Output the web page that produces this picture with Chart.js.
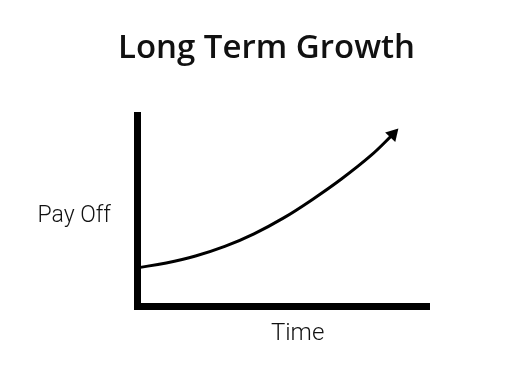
<!DOCTYPE html>
<html>
<head>
<meta charset="utf-8">
<script src="https://cdn.jsdelivr.net/npm/chart.js@4/dist/chart.umd.min.js"></script>
<style>
  body { margin: 0; background: #fff; }
  canvas { display: block; }
</style>
</head>
<body>
<canvas id="myChart" width="517" height="382"></canvas>
<script>
// curve (x = time, y = pay off, both 0..100)
var timeValues = [0, 10, 20, 30, 40, 50, 60, 70, 80, 87.5];
var payOffValues = [20.2, 22.8, 26.4, 31.4, 38.0, 46.2, 56.0, 66.8, 79.0, 90.0];
var chartTitle = 'Long Term Growth';
var xLabel = 'Time';
var yLabel = 'Pay Off';

var points = [];
for (var i = 0; i < timeValues.length; i++) {
    points.push({ x: timeValues[i], y: payOffValues[i] });
}

// axis labels: "Pay Off" sits flat on the left, so draw both by hand
var axisLabels = {
    id: 'axisLabels',
    afterDraw: function (chart) {
        var ctx = chart.ctx;
        var area = chart.chartArea;
        ctx.save();
        ctx.fillStyle = '#111';
        ctx.font = '300 23px Roboto';
        ctx.textBaseline = 'middle';
        ctx.textAlign = 'right';
        ctx.fillText(yLabel, area.left - 26, area.top + (area.bottom - area.top) * 0.52 + 1.5);
        ctx.textAlign = 'center';
        ctx.font = '300 24px Roboto';
        ctx.fillText(xLabel, area.left + (area.right - area.left) * 0.549, area.bottom + 27.5);
        ctx.restore();
    }
};

var last = points.length - 1;
var ctx = document.getElementById('myChart').getContext('2d');
var myChart = new Chart(ctx, {
    type: 'line',
    data: {
        datasets: [{
            data: points,
            borderColor: '#000',
            borderWidth: 3,
            tension: 0.4,
            fill: false,
            pointStyle: 'triangle',
            pointRotation: 43,
            pointBackgroundColor: '#000',
            pointBorderWidth: 0,
            pointRadius: function (c) { return c.dataIndex === last ? 8 : 0; },
            pointHoverRadius: function (c) { return c.dataIndex === last ? 8 : 0; }
        }]
    },
    options: {
        responsive: false,
        animation: false,
        layout: {
            padding: { left: 103.5, right: 87.5, top: 0, bottom: 75.5 }
        },
        plugins: {
            legend: { display: false },
            tooltip: { enabled: false },
            title: {
                display: true,
                text: chartTitle,
                color: '#111',
                font: { family: 'Open Sans', size: 33, weight: 600, lineHeight: 1.2 },
                padding: { top: 29, bottom: 46.7 }
            }
        },
        scales: {
            x: {
                type: 'linear',
                min: 0,
                max: 100,
                ticks: { display: false },
                grid: { display: false, drawTicks: false },
                border: { display: true, color: '#000', width: 7 }
            },
            y: {
                min: 0,
                max: 100,
                ticks: { display: false },
                grid: { display: false, drawTicks: false },
                border: { display: true, color: '#000', width: 7 },
                afterFit: function (scale) { scale.width = 33.5; }
            }
        }
    },
    plugins: [axisLabels]
});
</script>
</body>
</html>
